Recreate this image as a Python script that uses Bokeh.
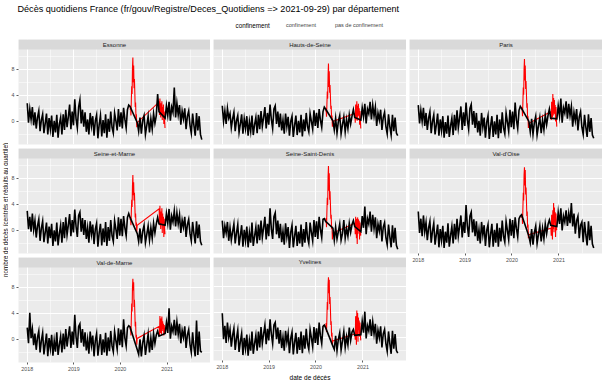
import math
import pandas as pd
from bokeh.plotting import figure
from bokeh.models import (ColumnDataSource, Range1d, FixedTicker, DatetimeTickFormatter,
                          BoxAnnotation, Label, Legend, LegendItem)
from bokeh.layouts import column, row
from bokeh.embed import file_html
from bokeh.resources import INLINE

# ---------------- texts ----------------
titre = "Décès quotidiens France (fr/gouv/Registre/Deces_Quotidiens => 2021-09-29) par département"
label_y = "nombre de décès (centrés et réduits au quartile)"
label_x = "date de décès"
legende_titre = "confinement"
legende_labels = ["confinement", "pas de confinement"]

# ---------------- periods ----------------
periodes_hors = [("2018-01-01", "2020-03-16"), ("2020-05-12", "2020-10-29"), ("2020-12-16", "2021-09-29")]
periodes_conf = [("2020-03-17", "2020-05-11"), ("2020-10-30", "2020-12-15")]
date_debut = "2018-01-01"
date_fin = "2021-09-29"

annees = ["2018-01-01", "2019-01-01", "2020-01-01", "2021-01-01"]
mi_annees = ["2018-07-01", "2019-07-01", "2020-07-01", "2021-07-01"]
y_ticks = [0, 4, 8]
y_minor = [-2, 2, 6, 10]

# ---------------- values (~10-day steps) ----------------
essonne_hors1 = [2.8, -0.2, 1.9, 0.3, 2.2, -0.6, 1.4, -1.1, 0.6, 1.6, -1.5, 0.2,
                 1.1, -1.8, -0.3, 1.2, -2.0, 0.5, -1.2, 0.9, -2.4, 0.1, -1.7, 1.0, -2.5, -0.4, 0.6,
                 -2.0, 1.1, -1.3, 1.8, -0.9, 0.7, 2.6, -1.2, 1.5,
                 -0.6, 3.4, 0.4, -1.0, 2.2, 3.3, -0.3, 1.8, -0.8,
                 1.4, -1.6, 0.3, -2.0, 1.3, -0.7, 0.8, -2.2, 0.1,
                 1.0, -2.6, -0.5, 0.9, -2.3, 0.2, -1.8, 1.1, -2.5,
                 0.4, -1.6, 1.5, -0.9, -1.8, 1.3, 0.1, -1.4, 1.9,
                 -0.8, 1.4, -1.1, 2.1, 0.3, -1.0, 1.8, 2.5, 2.3]
essonne_hors2 = [-0.2, -1.5, 0.6, -1.9, 0.2, 0.9, -2.0, -0.6, 0.8, -1.7, 0.4, -1.2, 1.2, -0.3, 0.9, 4.2, 1.5]
essonne_hors3 = [0.5, 2.4, 0.9, 3.0, 0.1, 2.2, 1.4, 5.2, 0.6, 2.8, 1.0,
                 2.5, -0.5, 1.6, 0.4, 2.0, -1.2, 0.8, 1.6, -0.6,
                 -1.8, 1.2, -0.6, -2.2, 1.3, -1.4, 0.8, -2.0, -2.8]
essonne_conf1 = [1.8, 2.4, 0.9, 3.1, 5.4, 4.2, 8.3, 9.8, 6.0, 8.6, 5.1, 6.5, 4.4, 2.2, 2.9, 0.4, 1.1, -0.9, -0.2]
essonne_conf2 = [3.0, 1.0, 3.5, 1.8, 0.6, 2.8, 1.2, 3.1, 0.2, 2.2, 1.0, 2.6, -0.4, 1.5, 0.3, -1.0]

hauts_hors1 = [2.4, 0.0, 1.6, -0.4, 2.0, 0.5, 1.2, -1.0, 0.4, 1.4, -1.5, 0.1,
               0.9, -1.7, -0.4, 1.1, -1.9, 0.4, -1.1, 0.8, -2.2, 0.0, -1.5, 0.9, -2.1, -0.5, 0.6,
               -1.8, 1.0, -1.2, 1.6, -0.8, 0.6, 2.2, -1.1, 1.3,
               -0.5, 2.6, 0.3, -1.1, 1.9, 2.4, -0.4, 1.5, -0.9,
               1.2, -1.4, 0.2, -1.9, 1.2, -0.8, 0.7, -2.2, 0.0,
               0.8, -2.4, -0.6, 0.9, -2.1, 0.1, -1.7, 1.0, -2.3,
               0.3, -1.5, 1.3, -0.8, -1.6, 1.2, 0.0, -1.2, 1.7,
               -0.7, 1.3, -1.0, 1.9, 0.2, -0.9, 1.5, 2.2, 1.9]
hauts_hors2 = [0.1, -1.3, 0.5, -1.8, 0.0, 0.9, -1.9, -0.5, 0.7, -1.6, 0.3, -1.1, 1.0, -0.4, 0.8, 1.8, 0.6]
hauts_hors3 = [0.2, 2.1, 0.7, 2.7, -0.3, 1.9, 1.2, 3.0, 0.3, 2.5, 0.8,
               2.2, -0.7, 1.3, 0.2, 1.8, -1.3, 0.6, 1.4, -0.8,
               -1.9, 1.1, -0.8, -2.1, 1.0, -1.5, 0.6, -1.8, -2.2]
hauts_conf1 = [1.5, 2.0, 0.7, 2.6, 4.6, 3.5, 7.1, 8.9, 5.3, 7.7, 4.4, 5.6, 3.8, 1.9, 2.4, 0.2, 0.9, -0.8, 0.0]
hauts_conf2 = [1.2, -0.2, 2.6, 1.4, 0.3, 3.1, 0.1, 2.4, 0.8, 2.7, 0.9, 2.0, -0.5, 1.6, 0.2, -1.1]

paris_hors1 = [2.5, -0.3, 1.7, 0.0, 2.1, -0.7, 1.3, -1.3, 0.5, 1.5, -1.8, 0.0,
               1.0, -2.0, -0.5, 1.2, -2.2, 0.3, -1.4, 0.8, -2.5, -0.1, -1.9, 0.9, -2.4, -0.7, 0.5,
               -2.1, 1.0, -1.4, 1.7, -1.0, 0.5, 2.3, -1.3, 1.4,
               -0.7, 2.9, 0.2, -1.2, 2.0, 2.6, -0.5, 1.6, -1.0,
               1.3, -1.7, 0.1, -2.2, 1.3, -0.9, 0.6, -2.5, -0.1,
               0.9, -2.7, -0.7, 0.8, -2.4, 0.0, -2.0, 1.0, -2.6,
               0.3, -1.8, 1.4, -1.0, -1.9, 1.3, -0.1, -1.5, 1.8,
               -0.9, 1.5, -1.2, 2.9, 0.2, -1.1, 1.7, 2.3, 2.0]
paris_hors2 = [0.0, -1.6, 0.4, -2.0, -0.2, 0.8, -2.1, -0.7, 0.6, -1.8, 0.2, -1.3, 1.0, -0.5, 0.9, 1.9, 0.5]
paris_hors3 = [0.4, 2.4, 0.8, 3.5, -0.2, 2.1, 1.3, 3.1, 0.4, 2.7, 0.9,
               2.3, -0.8, 1.4, 0.1, 1.9, -1.4, 0.7, 1.5, -0.9,
               -2.0, 1.0, -0.9, -2.4, 1.1, -1.6, 0.5, -2.1, -2.6]
paris_conf1 = [1.7, 2.2, 0.8, 3.0, 5.2, 4.1, 8.0, 9.6, 6.3, 8.6, 5.0, 6.2, 4.3, 2.1, 2.8, 0.3, 0.8, -1.0, -0.3]
paris_conf2 = [1.5, 0.2, 3.0, 1.7, 0.6, 4.2, 0.9, 3.6, 1.2, 3.3, 1.1, 2.5, 0.0, 2.2, 0.4, -0.8]

seine_marne_hors1 = [3.0, 0.2, 2.1, -0.2, 2.6, 0.1, 1.5, -1.1, 0.7, 1.7, -1.6, 0.3,
                     1.4, -1.8, -0.3, 1.2, -2.0, 0.6, -1.2, 1.0, -2.4, 0.0, -1.7, 1.2, -2.3, -0.5, 0.8,
                     -1.9, 1.3, -1.2, 2.0, -0.7, 0.8, 2.5, -0.9, 1.6,
                     -0.3, 3.2, 0.6, -1.0, 2.3, 2.8, -0.2, 1.9, -0.7,
                     1.6, -1.3, 0.4, -1.9, 1.4, -0.6, 0.9, -2.1, 0.2,
                     1.1, -2.5, -0.4, 1.0, -2.3, 0.3, -1.8, 1.3, -2.4,
                     0.5, -1.6, 1.6, -0.8, -1.7, 1.5, 0.2, -1.3, 2.0,
                     -0.8, 1.8, -0.9, 2.2, 0.4, -0.8, 2.0, 2.6, 2.0]
seine_marne_hors2 = [-0.5, -1.7, 0.3, -2.0, -0.1, 0.8, -1.9, -0.6, 0.7, -1.5, 0.4, -1.2, 1.1, -0.4, 1.0, 2.0, 1.0]
seine_marne_hors3 = [0.8, 2.6, 1.1, 3.3, 0.1, 2.2, 1.3, 3.0, 0.6, 2.7, 1.0,
                     2.4, -0.4, 1.6, 0.5, 2.1, -1.0, 0.9, 1.7, -0.5,
                     -1.6, 1.3, -0.5, -2.0, 1.4, -1.2, 0.9, -1.7, -2.3]
seine_marne_conf1 = [1.6, 2.1, 0.8, 2.7, 4.7, 3.6, 6.9, 8.5, 5.4, 7.4, 4.6, 5.8, 3.9, 2.0, 2.6, 0.7, 1.2, -0.3, 0.8]
seine_marne_conf2 = [3.3, 0.8, 3.8, 2.0, 0.2, 2.9, 1.0, 3.4, -0.4, 2.6, 0.8, 2.1, -1.0, 1.8, 0.3, -0.6]

ssd_hors1 = [1.5, -1.2, 0.7, -0.4, 1.3, -1.6, 0.4, -1.5, -0.2, 1.0, -2.0, -0.4,
             0.9, -2.3, -0.8, 0.8, -2.5, 0.1, -1.6, 0.6, -2.6, -0.3, -1.9, 1.2, -2.4, -0.9, 0.5,
             -2.0, 0.9, -1.5, 1.5, -1.1, 0.4, 2.1, -1.4, 1.0,
             -0.9, 3.4, 0.2, -1.3, 2.1, 2.7, -0.6, 1.5, -1.2,
             1.0, -1.8, -0.1, -2.2, 1.1, -1.0, 0.5, -2.7, -0.3,
             0.8, -2.6, -0.9, 0.7, -2.4, -0.2, -2.0, 0.9, -2.5,
             0.2, -1.9, 1.3, -1.1, -2.0, 1.2, -0.3, -1.6, 1.6,
             -1.0, 1.4, -1.3, 2.1, 0.1, -1.1, 1.7, 1.8, 1.4]
ssd_hors2 = [0.35, -1.5, 0.5, -1.3, -0.2, 1.0, -1.5, -0.5, 1.6, -1.2, 0.3, -0.9, 1.1, -0.3, 0.9, 1.5, 0.6]
ssd_hors3 = [-0.2, 2.2, 0.4, 3.65, -0.6, 1.8, 1.0, 2.9, -0.2, 2.4, 0.3,
             2.0, -1.2, 1.0, -0.1, 1.6, -1.7, 0.5, 1.2, -1.1,
             -2.2, 0.9, -1.0, -2.6, 0.8, -1.9, 0.4, -2.3, -2.9]
ssd_conf1 = [1.2, 1.9, 0.5, 2.9, 5.0, 3.9, 8.2, 9.9, 6.1, 8.8, 4.7, 6.0, 4.0, 1.8, 2.4, 0.2, 0.6, -1.4, -0.4]
ssd_conf2 = [1.1, -0.6, 2.1, 0.6, -1.2, 1.8, -2.1, 2.0, -0.5, 1.7, 0.4, 1.5, -1.4, 1.2, 0.0, -0.8]

val_oise_hors1 = [2.9, -0.4, 1.8, -0.9, 2.3, -0.2, 1.2, -1.5, 0.4, 1.4, -1.9, -0.1,
                  1.1, -2.2, -0.6, 0.9, -2.6, 0.2, -1.5, 0.7, -2.7, -0.2, -1.9, 1.1, -2.5, -0.8, 0.6,
                  -2.0, 1.0, -1.4, 1.8, -0.9, 0.6, 2.3, -1.1, 1.3,
                  -0.4, 3.9, 0.7, -1.0, 2.2, 2.8, -0.3, 1.7, -0.9,
                  1.4, -1.6, 0.1, -2.0, 1.3, -0.7, 0.8, -2.4, 0.0,
                  0.9, -2.6, -0.6, 1.0, -2.5, 0.1, -1.9, 1.1, -2.5,
                  0.4, -1.7, 1.5, -0.9, -1.8, 1.4, 0.0, -1.4, 1.8,
                  -0.8, 1.6, -1.2, 2.0, 0.3, -1.0, 1.8, 2.2, 2.4]
val_oise_hors2 = [-0.9, -1.9, 0.2, -2.2, -0.3, 0.7, -2.0, -0.6, 0.7, -1.7, 0.3, -1.3, 1.0, -0.5, 0.9, 1.6, 0.8]
val_oise_hors3 = [0.6, 2.8, 1.0, 3.4, 0.0, 2.2, 1.3, 3.1, 0.7, 2.6, 1.1,
                  4.2, 0.6, 2.6, -0.5, 1.5, 2.2, -1.2, 0.8, 1.3,
                  -1.8, 1.3, -0.7, -2.3, 1.4, -1.5, 0.7, -2.1, -2.7]
val_oise_conf1 = [1.9, 2.5, 1.0, 3.4, 5.8, 4.6, 8.5, 9.7, 6.9, 9.3, 5.5, 6.6, 4.7, 2.2, 2.9, 0.4, 0.9, -1.2, -0.66]
val_oise_conf2 = [0.35, -0.8, 2.4, 1.0, -1.4, 3.1, 0.2, 4.2, -0.3, 3.5, 1.2, 2.8, -1.0, 2.6, 0.5, 0.0]

val_marne_hors1 = [1.8, -0.6, 4.1, 0.2, 1.6, -0.9, 0.9, -1.6, 0.3, 1.3, -2.0, -0.2,
                   1.0, -2.3, -0.7, 0.9, -2.6, 0.2, -1.4, 0.7, -2.5, -0.2, -1.9, 1.1, -2.4, -0.8, 0.5,
                   -2.0, 0.9, -1.5, 1.6, -1.1, 0.5, 2.0, -1.3, 1.2,
                   -0.8, 3.8, 0.4, -1.3, 2.0, 2.4, -0.5, 1.6, -1.1,
                   1.1, -1.7, 0.0, -2.2, 1.2, -0.9, 0.6, -2.6, -0.2,
                   0.9, -2.5, -0.8, 0.8, -2.4, 0.0, -2.0, 1.0, -2.5,
                   0.3, -1.8, 1.3, -1.0, -1.9, 1.2, -0.2, -1.5, 1.7,
                   -0.9, 1.5, -1.2, 3.1, 0.2, -1.0, 1.8, 2.1, 1.9]
val_marne_hors2 = [-1.6, -2.3, 0.0, -2.6, -0.5, 0.6, -2.4, -0.8, 0.8, -2.0, 0.2, -1.6, 0.9, -0.6, 0.7, 1.3, 0.5]
val_marne_hors3 = [0.9, 2.6, 1.0, 4.8, 0.1, 2.0, 1.2, 3.0, 0.6, 2.7, 0.8,
                   2.4, -0.6, 1.4, 0.3, 2.0, -1.3, 0.7, 1.5, -0.8,
                   -2.0, 1.1, -1.2, -2.6, 2.9, -2.4, 1.2, -1.8, -2.0]
val_marne_conf1 = [1.5, 2.0, 0.6, 3.0, 5.5, 4.3, 8.1, 9.3, 7.5, 8.8, 5.0, 6.1, 4.2, 2.0, 2.7, 0.3, 0.7, -0.8, 0.15]
val_marne_conf2 = [2.0, 0.6, 3.6, 2.2, 1.0, 3.2, 0.7, 3.5, 1.3, 2.8, 1.6, 2.4, 0.6, 2.2, 1.2, 0.9]

yvelines_hors1 = [3.85, -0.2, 1.9, -0.8, 2.4, 0.1, 1.3, -1.4, 0.4, 1.5, -1.9, -0.1,
                  1.2, -2.2, -0.6, 0.7, -2.7, 0.0, -1.7, 0.5, -2.8, -0.4, -2.0, 1.0, -2.5, -0.9, 0.4,
                  -2.0, 1.0, -1.5, 1.7, -0.9, 0.6, 2.0, -1.0, 1.4,
                  -0.4, 2.9, 0.6, -0.9, 2.0, 2.4, -0.2, 1.6, -0.9,
                  1.2, -1.6, 0.1, -2.0, 1.1, -0.7, 0.7, -2.4, -0.1,
                  0.9, -2.6, -0.7, 0.8, -2.5, 0.1, -1.9, 1.0, -2.4,
                  0.4, -1.7, 1.4, -0.9, -1.8, 1.3, 0.0, -1.4, 1.7,
                  -0.8, 1.5, -1.1, 2.4, 0.3, -0.9, 1.8, 2.0, 1.6]
yvelines_hors2 = [-1.3, -1.8, 0.3, -2.0, -0.2, 0.8, -1.9, -0.5, 1.0, -1.5, 0.2, -1.1, 1.6, -0.4, 0.9, 1.3, 0.4]
yvelines_hors3 = [0.5, 2.6, 0.8, 4.1, -0.1, 1.9, 1.1, 2.9, 0.3, 2.5, 0.6,
                  2.2, -0.9, 1.2, 0.0, 1.8, -1.5, 0.6, 1.3, -0.9,
                  -2.1, 1.0, -0.9, -2.5, 1.1, -1.7, 0.6, -2.0, -2.4]
yvelines_conf1 = [1.7, 2.3, 0.9, 3.2, 5.6, 4.4, 8.3, 9.5, 7.0, 9.1, 5.3, 6.4, 4.5, 2.0, 2.6, 0.2, 0.8, -1.1, -0.5]
yvelines_conf2 = [0.6, -0.3, 3.4, 1.5, -1.1, 4.3, 0.5, 3.9, -0.6, 3.2, 1.2, 2.7, 0.2, 2.4, 0.6, -0.4]

series_hors = {
    "Essonne": [essonne_hors1, essonne_hors2, essonne_hors3],
    "Hauts-de-Seine": [hauts_hors1, hauts_hors2, hauts_hors3],
    "Paris": [paris_hors1, paris_hors2, paris_hors3],
    "Seine-et-Marne": [seine_marne_hors1, seine_marne_hors2, seine_marne_hors3],
    "Seine-Saint-Denis": [ssd_hors1, ssd_hors2, ssd_hors3],
    "Val-d'Oise": [val_oise_hors1, val_oise_hors2, val_oise_hors3],
    "Val-de-Marne": [val_marne_hors1, val_marne_hors2, val_marne_hors3],
    "Yvelines": [yvelines_hors1, yvelines_hors2, yvelines_hors3],
}
series_conf = {
    "Essonne": [essonne_conf1, essonne_conf2],
    "Hauts-de-Seine": [hauts_conf1, hauts_conf2],
    "Paris": [paris_conf1, paris_conf2],
    "Seine-et-Marne": [seine_marne_conf1, seine_marne_conf2],
    "Seine-Saint-Denis": [ssd_conf1, ssd_conf2],
    "Val-d'Oise": [val_oise_conf1, val_oise_conf2],
    "Val-de-Marne": [val_marne_conf1, val_marne_conf2],
    "Yvelines": [yvelines_conf1, yvelines_conf2],
}

# ---------------- layout constants ----------------
FONT = "Liberation Sans"
FW = 193            # panel width
FH_DATA = 95        # panel data height
STRIP = 10          # strip height
GAP = 3             # gap between columns
VGAP = 4            # gap between rows
LEFT = 9            # room for y ticks
YLAB_W = 8          # room for y axis title
BOTTOM = 21         # room for x ticks + x title
HEAD_H = 39
FH = FH_DATA + STRIP
Y0, Y1 = -3.55, 11.05
Y_EXT = (Y1 - Y0) * STRIP / FH_DATA


def ms(d):
    return pd.Timestamp(d).value / 1e6


span = ms(date_fin) - ms(date_debut)
X0 = ms(date_debut) - 0.05 * span
X1 = ms(date_fin) + 0.05 * span


def serie(periodes, listes):
    idx = None
    vals = []
    for (debut, fin), v in zip(periodes, listes):
        d = pd.date_range(debut, fin, periods=len(v))
        idx = d if idx is None else idx.append(d)
        vals.extend(v)
    return ColumnDataSource(data=dict(x=idx.to_numpy(), y=vals))


def style_axis(ax):
    ax.axis_line_color = None
    ax.major_tick_out = 2
    ax.major_tick_in = 0
    ax.minor_tick_out = 0
    ax.minor_tick_in = 0
    ax.major_tick_line_color = "#333333"
    ax.major_tick_line_width = 0.8
    ax.major_label_text_font = FONT
    ax.major_label_text_font_size = "5.3px"
    ax.major_label_text_color = "#4D4D4D"
    ax.major_label_standoff = 2
    ax.axis_label_text_font = FONT
    ax.axis_label_text_font_size = "6.5px"
    ax.axis_label_text_font_style = "normal"
    ax.axis_label_text_color = "black"
    ax.axis_label_standoff = 2


def panel(nom, col, show_x, xlab=None):
    left = LEFT if col == 0 else GAP
    bottom = BOTTOM if show_x else VGAP
    p = figure(width=FW + left, height=FH + bottom, x_axis_type="datetime",
               x_range=Range1d(X0, X1), y_range=Range1d(Y0, Y1 + Y_EXT),
               x_axis_location="below" if show_x else None,
               y_axis_location="left" if col == 0 else None,
               output_backend="svg", toolbar_location=None,
               min_border_left=left, min_border_right=0,
               min_border_top=0, min_border_bottom=bottom)
    p.background_fill_color = "#EBEBEB"
    p.border_fill_color = "white"
    p.outline_line_color = None

    p.xgrid.ticker = FixedTicker(ticks=[ms(a) for a in annees], minor_ticks=[ms(a) for a in mi_annees])
    p.ygrid.ticker = FixedTicker(ticks=y_ticks, minor_ticks=y_minor)
    for g in (p.xgrid, p.ygrid):
        g.grid_line_color = "white"
        g.grid_line_width = 1
        g.minor_grid_line_color = "white"
        g.minor_grid_line_width = 0.5

    if col == 0:
        ax = p.yaxis[0]
        ax.ticker = FixedTicker(ticks=y_ticks, minor_ticks=[])
        style_axis(ax)
    if show_x:
        ax = p.xaxis[0]
        ax.ticker = FixedTicker(ticks=[ms(a) for a in annees], minor_ticks=[])
        ax.formatter = DatetimeTickFormatter(years="%Y", months="%Y", days="%Y", hours="%Y")
        style_axis(ax)
        if xlab:
            ax.axis_label = xlab

    p.line("x", "y", source=serie(periodes_conf, series_conf[nom]), line_color="#FF0000",
           line_width=1.1, line_join="miter")
    p.line("x", "y", source=serie(periodes_hors, series_hors[nom]), line_color="black",
           line_width=1.6, line_join="miter")

    p.add_layout(BoxAnnotation(bottom=Y1, fill_color="#D9D9D9", fill_alpha=1.0, line_color=None))
    p.add_layout(Label(x=(X0 + X1) / 2, y=Y1 + Y_EXT / 2, text=nom, text_align="center",
                       text_baseline="middle", text_font=FONT, text_font_size="6px",
                       text_color="#1A1A1A"))
    return p


# ---------------- header (title + legend) ----------------
HW = YLAB_W + LEFT + 3 * FW + 2 * GAP
h = figure(width=HW, height=HEAD_H, x_range=Range1d(0, HW), y_range=Range1d(HEAD_H, 0),
           x_axis_location=None, y_axis_location=None, output_backend="svg",
           toolbar_location=None, min_border=0)
h.outline_line_color = None
h.grid.visible = False
h.add_layout(Label(x=17, y=8, text=titre, text_baseline="middle", text_align="left",
                   text_font=FONT, text_font_size="9.1px", text_color="black"))
h.add_layout(Label(x=235, y=24.5, text=legende_titre, text_baseline="middle", text_align="left",
                   text_font=FONT, text_font_size="6.3px", text_color="black"))
q1 = h.quad(left=[], right=[], top=[], bottom=[], fill_color="#F2F2F2", line_color=None)
l1 = h.line(x=[], y=[], line_color="#FF0000", line_width=1)
q2 = h.quad(left=[], right=[], top=[], bottom=[], fill_color="#F2F2F2", line_color=None)
l2 = h.line(x=[], y=[], line_color="black", line_width=1)
leg = Legend(items=[LegendItem(label=legende_labels[0], renderers=[q1, l1]),
                    LegendItem(label=legende_labels[1], renderers=[q2, l2])],
             orientation="horizontal", location=(273, 10), glyph_width=10, glyph_height=9,
             label_standoff=3, spacing=6, padding=0, margin=0, border_line_color=None,
             background_fill_alpha=0, label_text_font=FONT, label_text_font_size="5.5px",
             label_height=9, label_width=10, label_text_baseline="middle")
h.add_layout(leg)

# ---------------- y axis title ----------------
GRID_H = 2 * (FH + VGAP) + FH + BOTTOM
yl = figure(width=YLAB_W, height=GRID_H, x_range=Range1d(0, YLAB_W), y_range=Range1d(GRID_H, 0),
            x_axis_location=None, y_axis_location=None, output_backend="svg",
            toolbar_location=None, min_border=0)
yl.outline_line_color = None
yl.grid.visible = False
yl.add_layout(Label(x=4.5, y=FH + VGAP + STRIP + FH_DATA / 2 + 4, text=label_y, angle=math.pi / 2,
                    text_align="center", text_baseline="middle", text_font=FONT,
                    text_font_size="6.3px", text_color="black"))

# ---------------- facets ----------------
col1 = column(panel("Essonne", 0, False),
              panel("Seine-et-Marne", 0, False),
              panel("Val-de-Marne", 0, True))
col2 = column(panel("Hauts-de-Seine", 1, False),
              panel("Seine-Saint-Denis", 1, False),
              panel("Yvelines", 1, True, xlab=label_x))
col3 = column(panel("Paris", 2, False),
              panel("Val-d'Oise", 2, True))

page = column(h, row(yl, col1, col2, col3))

open("out.html", "w").write(file_html(page, INLINE))
